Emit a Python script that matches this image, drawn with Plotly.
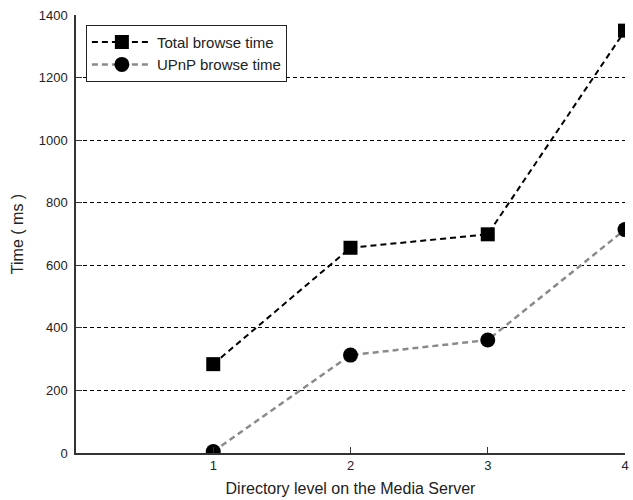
import plotly.graph_objects as go

# Directory depth on the media server
levels = [1, 2, 3, 4]
# Browse times in milliseconds
total_browse = [284, 656, 699, 1350]
upnp_browse = [5, 313, 361, 714]

y_ticks = [0, 200, 400, 600, 800, 1000, 1200, 1400]

font_family = "Liberation Sans, Arial, sans-serif"

fig = go.Figure()
fig.add_trace(go.Scatter(
    x=levels, y=total_browse, name="Total browse time",
    mode="lines+markers",
    line=dict(color="black", width=2, dash="6px,4px"),
    marker=dict(symbol="square", size=14, color="black"),
))
fig.add_trace(go.Scatter(
    x=levels, y=upnp_browse, name="UPnP browse time",
    mode="lines+markers",
    line=dict(color="#8a8a8a", width=2.5, dash="6px,4px"),
    marker=dict(symbol="circle", size=15, color="black"),
))

fig.update_layout(
    width=633, height=500,
    margin=dict(l=76, r=4, t=15, b=47),
    paper_bgcolor="white", plot_bgcolor="white",
    font=dict(family=font_family, size=13, color="#222"),
    legend=dict(
        x=0.018, y=0.978, xanchor="left", yanchor="top",
        bgcolor="white", bordercolor="#222", borderwidth=1,
        font=dict(size=15, color="#222"),
        itemwidth=60, tracegroupgap=0,
        entrywidth=162, entrywidthmode="pixels",
    ),
    showlegend=True,
)

fig.update_xaxes(
    range=[0, 4], tickvals=levels, ticktext=[str(v) for v in levels],
    showgrid=False, zeroline=False,
    showline=True, linecolor="#333", linewidth=1.5,
    ticks="inside", ticklen=6, tickcolor="#333",
    title=dict(text="Directory level on the Media Server", font=dict(size=16), standoff=10),
)
fig.update_yaxes(
    range=[0, 1400], tickvals=y_ticks,
    showgrid=True, gridcolor="black", griddash="4px,3px", gridwidth=1,
    zeroline=False,
    showline=True, linecolor="#333", linewidth=1.5,
    ticks="inside", ticklen=6, tickcolor="#333",
    ticklabelstandoff=4,
    title=dict(text="Time ( ms )", font=dict(size=16), standoff=11),
)

fig.write_html("out.html")
